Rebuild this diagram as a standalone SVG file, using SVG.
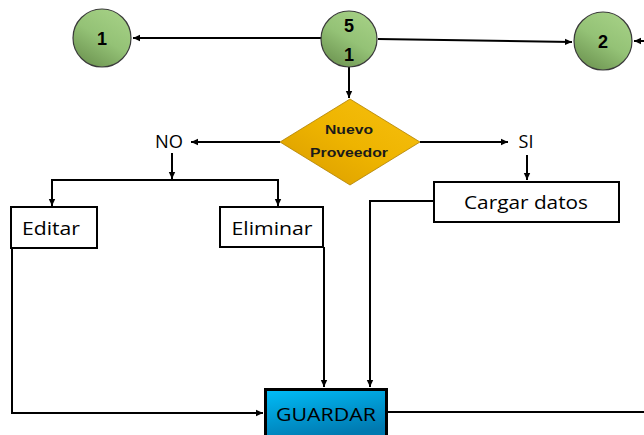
<svg xmlns="http://www.w3.org/2000/svg" width="644" height="435" viewBox="0 0 644 435">
<defs>
<linearGradient id="gGreen" x1="0.8" y1="0" x2="0.2" y2="1">
<stop offset="0" stop-color="#a6d186"/><stop offset="0.5" stop-color="#94c276"/><stop offset="1" stop-color="#6c9350"/>
</linearGradient>
<linearGradient id="gGold" x1="0" y1="1" x2="1" y2="0">
<stop offset="0" stop-color="#d89a00"/><stop offset="0.5" stop-color="#eeb400"/><stop offset="1" stop-color="#f7c010"/>
</linearGradient>
<linearGradient id="gBlue" x1="0" y1="0" x2="0.4" y2="1">
<stop offset="0" stop-color="#00bdf8"/><stop offset="1" stop-color="#0079b0"/>
</linearGradient>
<marker id="arr" markerWidth="8" markerHeight="8" refX="7" refY="4" orient="auto" markerUnits="userSpaceOnUse">
<path d="M0,0.8 L7,4 L0,7.2 Z" fill="#000"/>
</marker>
<style>
.c{stroke:#3a3a3a;stroke-width:1.2;fill:url(#gGreen)}
.num{font-family:"Liberation Sans",Arial,sans-serif;font-weight:bold;font-size:18px;fill:#000;text-anchor:middle}
.ln{stroke:#000;stroke-width:2;fill:none}
.box{fill:#fff;stroke:#000;stroke-width:2}
.t{font-family:"Open Sans","Liberation Sans",sans-serif;font-size:18px;fill:#000;text-anchor:middle}
.dt{font-family:"Liberation Sans",Arial,sans-serif;font-weight:bold;font-size:13px;fill:#1a1a1a;text-anchor:middle}
</style>
</defs>
<g id="connectors">
<path class="ln" d="M322,38 L133,38" marker-end="url(#arr)"/>
<path class="ln" d="M378,39 L572,42" marker-end="url(#arr)"/>
<path class="ln" d="M644,41 L634,41" marker-end="url(#arr)"/>
<path class="ln" d="M349,67 L349,98" marker-end="url(#arr)"/>
<path class="ln" d="M280,142 L191,142" marker-end="url(#arr)"/>
<path class="ln" d="M420,142 L508,142" marker-end="url(#arr)"/>
<path class="ln" d="M172,153 L172,179" marker-end="url(#arr)"/>
<path class="ln" d="M52,206 L52,180 L278,180 L278,206" marker-end="url(#arr)"/>
<path class="ln" d="M52,196 L52,206" marker-end="url(#arr)"/>
<path class="ln" d="M527,155 L527,180" marker-end="url(#arr)"/>
<path class="ln" d="M12,248 L12,413 L263,413" marker-end="url(#arr)"/>
<path class="ln" d="M324,247 L324,387" marker-end="url(#arr)"/>
<path class="ln" d="M434,201 L370,201 L370,387" marker-end="url(#arr)"/>
<path class="ln" d="M387,412 L644,412"/>
</g>
<g id="n1"><circle class="c" cx="102" cy="38" r="29"/><text class="num" x="102" y="45">1</text></g>
<g id="n51"><circle class="c" cx="349" cy="39" r="28"/><text class="num" x="349" y="32">5</text><text class="num" x="349" y="61">1</text></g>
<g id="n2"><circle class="c" cx="603" cy="41" r="29"/><text class="num" x="603" y="48">2</text></g>
<g id="decision"><path d="M350,99 L420,142 L350,185 L280,142 Z" fill="url(#gGold)" stroke="#b08000" stroke-width="0.8"/>
<text class="dt" x="349" y="134" textLength="48" lengthAdjust="spacingAndGlyphs">Nuevo</text><text class="dt" x="349" y="157" textLength="78" lengthAdjust="spacingAndGlyphs">Proveedor</text></g>
<g id="no"><text class="t" x="169" y="148" textLength="28" lengthAdjust="spacingAndGlyphs">NO</text></g>
<g id="si"><text class="t" x="526" y="148">SI</text></g>
<g id="editar"><rect class="box" x="11" y="207" width="86" height="41"/><text class="t" x="51" y="235" textLength="58" lengthAdjust="spacingAndGlyphs">Editar</text></g>
<g id="eliminar"><rect class="box" x="220" y="207" width="103" height="40"/><text class="t" x="272" y="235" textLength="81" lengthAdjust="spacingAndGlyphs">Eliminar</text></g>
<g id="cargar"><rect class="box" x="434" y="182" width="185" height="40"/><text class="t" x="526" y="209" textLength="124" lengthAdjust="spacingAndGlyphs">Cargar datos</text></g>
<g id="guardar"><rect x="265.5" y="389.5" width="121" height="50" fill="url(#gBlue)" stroke="#000" stroke-width="3"/><text class="t" x="326" y="421" font-size="20" fill="#0a1a2a" textLength="100" lengthAdjust="spacingAndGlyphs">GUARDAR</text></g>
</svg>
